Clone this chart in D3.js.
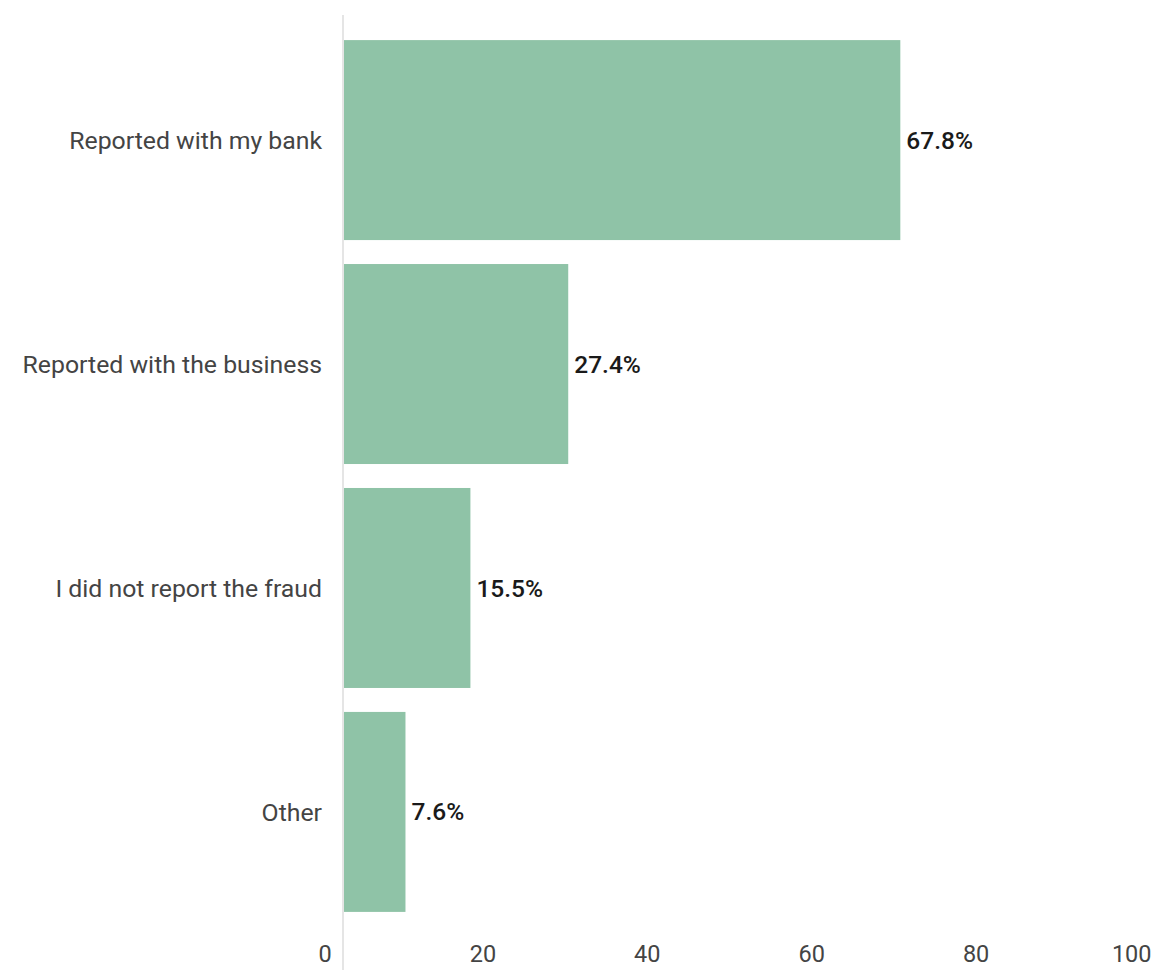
<!DOCTYPE html>
<html>
<head>
<meta charset="utf-8">
<script src="https://cdn.jsdelivr.net/npm/d3@7"></script>
<style>
  html, body { margin: 0; padding: 0; background: #fff; }
  svg { display: block; font-family: Roboto, "Noto Sans", sans-serif; }
</style>
</head>
<body>
<svg id="chart" width="1160" height="970"></svg>
<script>
const categories = ["Reported with my bank", "Reported with the business", "I did not report the fraud", "Other"];
const values = [67.8, 27.4, 15.5, 7.6];
const tickValues = [0, 20, 40, 60, 80, 100];

const svg = d3.select("#chart");
const barColor = "#8fc3a7";

// value scale for the bars
const x = d3.scaleLinear().domain([0, 100]).range([343, 1165]);
// scale for the bottom tick labels
const xTicks = d3.scaleLinear().domain([0, 100]).range([318, 1140]);

const y = d3.scaleBand().domain(categories).range([28, 924]).paddingInner(0.107).paddingOuter(0.054);

// baseline
svg.append("line")
  .attr("x1", 343).attr("x2", 343)
  .attr("y1", 15).attr("y2", 970)
  .attr("stroke", "#dcdcdc").attr("stroke-width", 1.5);

// bars
svg.append("g").selectAll("rect")
  .data(values)
  .join("rect")
  .attr("x", x(0) + 1)
  .attr("y", (d, i) => y(categories[i]))
  .attr("width", d => x(d) - x(0) - 1)
  .attr("height", y.bandwidth())
  .attr("fill", barColor);

// value labels
svg.append("g").selectAll("text")
  .data(values)
  .join("text")
  .attr("x", d => x(d) + 6)
  .attr("y", (d, i) => y(categories[i]) + y.bandwidth() / 2)
  .attr("dy", "0.35em")
  .attr("font-size", 24.5)
  .attr("font-weight", 500)
  .attr("fill", "#1a1a1a")
  .text(d => d.toFixed(1) + "%");

// category labels
svg.append("g").selectAll("text")
  .data(categories)
  .join("text")
  .attr("x", 322)
  .attr("y", d => y(d) + y.bandwidth() / 2)
  .attr("dy", "0.35em")
  .attr("text-anchor", "end")
  .attr("font-size", 24.8)
  .attr("fill", "#444")
  .text(d => d);

// bottom axis tick labels
const axis = d3.axisBottom(xTicks).tickValues(tickValues).tickSize(0).tickPadding(0);
const gAxis = svg.append("g").attr("transform", "translate(0,942)").call(axis);
gAxis.select(".domain").remove();
gAxis.selectAll("text")
  .attr("font-size", 23.5)
  .attr("font-family", "Roboto, 'Noto Sans', sans-serif")
  .attr("fill", "#444")
  .attr("dy", "0.35em")
  .attr("y", 12)
  .attr("text-anchor", d => d === 0 ? "start" : d === 100 ? "end" : "middle")
  .attr("dx", d => d === 100 ? 11 : 0);
</script>
</body>
</html>
